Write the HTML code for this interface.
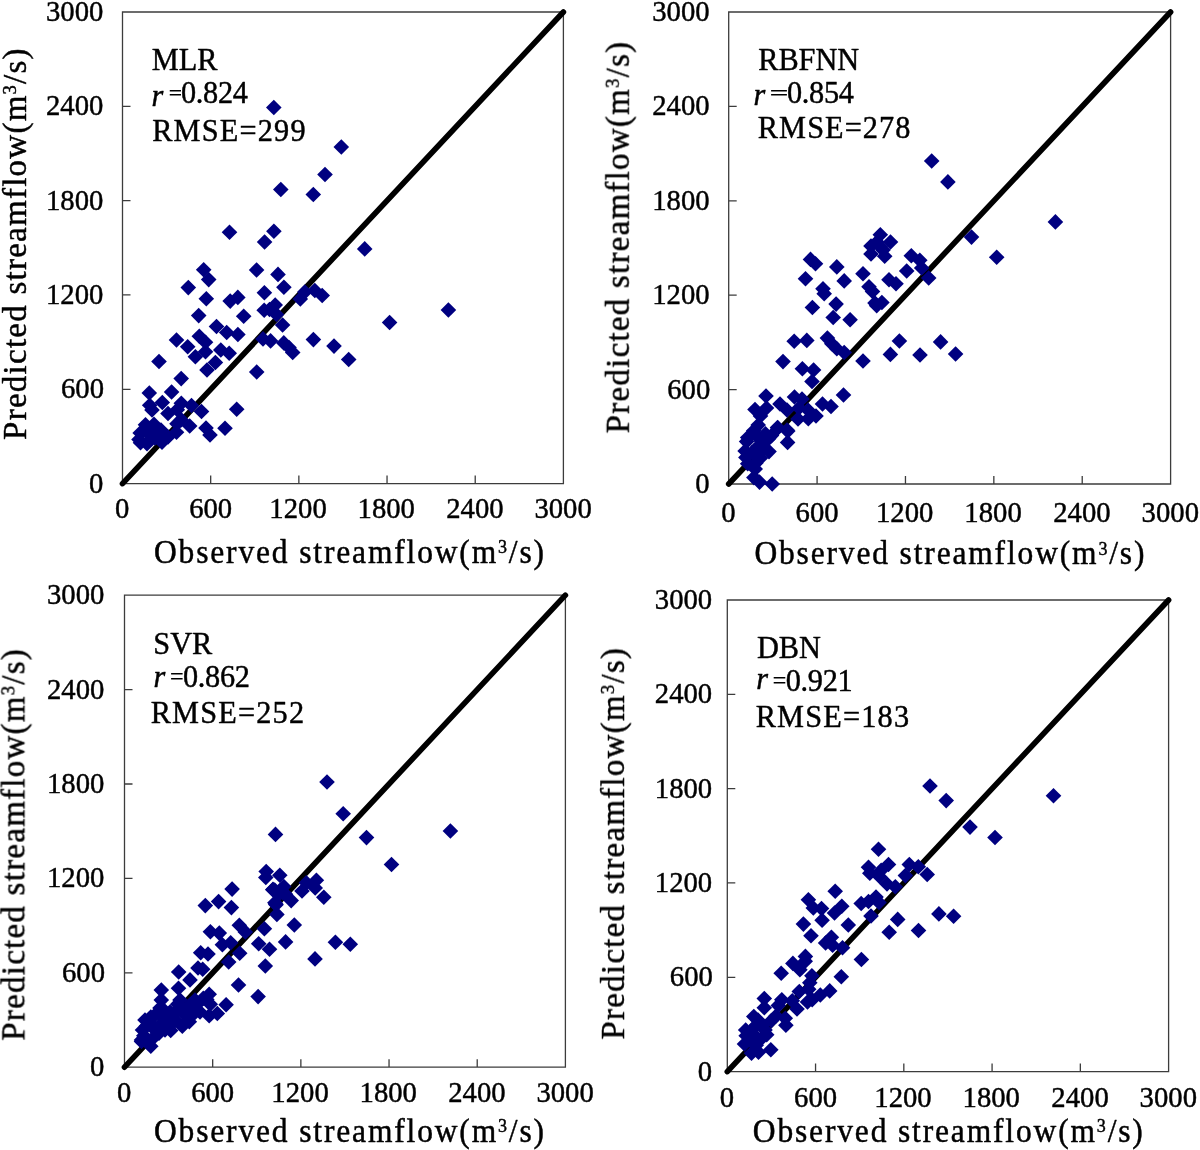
<!DOCTYPE html><html><head><meta charset="utf-8"><title>Streamflow scatter plots</title><style>html,body{margin:0;padding:0;background:#fff;overflow:hidden}svg{display:block}</style></head><body>
<svg width="1200" height="1150" viewBox="0 0 1200 1150" font-family='"Liberation Serif", serif'>
<rect width="1200" height="1150" fill="#fff"/>
<defs><path id="d" d="M0,-7.8L7.8,0L0,7.8L-7.8,0Z" fill="#000080"/></defs>
<path d="M210.68,483.60V475.60M122.50,389.28H130.50M298.86,483.60V475.60M122.50,294.96H130.50M387.04,483.60V475.60M122.50,200.64H130.50M475.22,483.60V475.60M122.50,106.32H130.50M122.50,12.00H563.40V483.60H122.50Z" stroke="#3c3c3c" stroke-width="1.3" fill="none"/>
<path d="M169.75,90H181.00v1.45H169.75ZM169.75,94H181.00v1.45H169.75Z" fill="#000"/>
<line x1="122.50" y1="483.60" x2="563.40" y2="12.00" stroke="#000" stroke-width="5.6" stroke-linecap="round"/>
<g><use href="#d" x="273.8" y="107.5"/><use href="#d" x="341.3" y="147.0"/><use href="#d" x="325.0" y="174.5"/><use href="#d" x="280.8" y="189.5"/><use href="#d" x="313.3" y="194.5"/><use href="#d" x="229.5" y="232.2"/><use href="#d" x="273.9" y="231.2"/><use href="#d" x="264.6" y="242.0"/><use href="#d" x="364.7" y="248.9"/><use href="#d" x="203.7" y="269.8"/><use href="#d" x="208.7" y="279.6"/><use href="#d" x="256.6" y="270.0"/><use href="#d" x="278.0" y="274.4"/><use href="#d" x="188.3" y="287.6"/><use href="#d" x="283.9" y="287.3"/><use href="#d" x="264.4" y="292.7"/><use href="#d" x="206.3" y="298.7"/><use href="#d" x="230.2" y="301.1"/><use href="#d" x="237.8" y="297.4"/><use href="#d" x="304.8" y="292.0"/><use href="#d" x="314.8" y="290.5"/><use href="#d" x="322.2" y="295.5"/><use href="#d" x="300.3" y="299.0"/><use href="#d" x="264.2" y="310.2"/><use href="#d" x="269.5" y="309.5"/><use href="#d" x="275.2" y="305.0"/><use href="#d" x="276.5" y="314.5"/><use href="#d" x="198.7" y="315.6"/><use href="#d" x="243.7" y="316.3"/><use href="#d" x="282.6" y="325.0"/><use href="#d" x="389.6" y="322.5"/><use href="#d" x="216.5" y="326.5"/><use href="#d" x="226.7" y="332.5"/><use href="#d" x="237.9" y="334.5"/><use href="#d" x="199.3" y="336.2"/><use href="#d" x="176.5" y="340.0"/><use href="#d" x="205.5" y="342.3"/><use href="#d" x="187.7" y="346.7"/><use href="#d" x="263.0" y="338.9"/><use href="#d" x="270.6" y="340.9"/><use href="#d" x="283.8" y="342.9"/><use href="#d" x="289.0" y="347.5"/><use href="#d" x="292.7" y="352.5"/><use href="#d" x="313.4" y="339.6"/><use href="#d" x="334.0" y="346.1"/><use href="#d" x="348.7" y="359.5"/><use href="#d" x="220.8" y="350.0"/><use href="#d" x="229.2" y="353.3"/><use href="#d" x="205.5" y="351.7"/><use href="#d" x="195.4" y="356.7"/><use href="#d" x="159.0" y="361.5"/><use href="#d" x="215.4" y="362.5"/><use href="#d" x="207.0" y="370.0"/><use href="#d" x="256.7" y="372.0"/><use href="#d" x="448.4" y="310.0"/><use href="#d" x="181.2" y="378.6"/><use href="#d" x="149.3" y="393.0"/><use href="#d" x="171.6" y="392.0"/><use href="#d" x="162.3" y="402.5"/><use href="#d" x="149.7" y="405.3"/><use href="#d" x="181.3" y="403.3"/><use href="#d" x="168.0" y="413.5"/><use href="#d" x="191.5" y="405.5"/><use href="#d" x="201.5" y="411.5"/><use href="#d" x="236.7" y="409.2"/><use href="#d" x="189.7" y="426.0"/><use href="#d" x="177.0" y="423.7"/><use href="#d" x="176.5" y="432.3"/><use href="#d" x="206.0" y="428.0"/><use href="#d" x="210.0" y="435.0"/><use href="#d" x="225.0" y="428.3"/><use href="#d" x="145.5" y="424.8"/><use href="#d" x="154.0" y="424.2"/><use href="#d" x="161.0" y="430.0"/><use href="#d" x="140.2" y="433.0"/><use href="#d" x="139.0" y="439.5"/><use href="#d" x="140.5" y="442.8"/><use href="#d" x="147.0" y="443.8"/><use href="#d" x="162.0" y="442.2"/><use href="#d" x="150.0" y="435.0"/><use href="#d" x="155.0" y="438.0"/><use href="#d" x="168.0" y="437.0"/><use href="#d" x="147.0" y="432.0"/><use href="#d" x="152.0" y="410.0"/><use href="#d" x="177.3" y="409.7"/><use href="#d" x="181.3" y="419.7"/></g>
<path d="M817.08,484.00V476.00M728.70,389.60H736.70M905.46,484.00V476.00M728.70,295.20H736.70M993.84,484.00V476.00M728.70,200.80H736.70M1082.22,484.00V476.00M728.70,106.40H736.70M728.70,12.00H1170.60V484.00H728.70Z" stroke="#3c3c3c" stroke-width="1.3" fill="none"/>
<path d="M771.10,90H786.90v1.45H771.10ZM771.10,94H786.90v1.45H771.10Z" fill="#000"/>
<line x1="728.70" y1="484.00" x2="1170.60" y2="12.00" stroke="#000" stroke-width="5.6" stroke-linecap="round"/>
<g><use href="#d" x="931.7" y="161.0"/><use href="#d" x="947.9" y="181.9"/><use href="#d" x="1055.4" y="221.9"/><use href="#d" x="971.5" y="237.1"/><use href="#d" x="996.7" y="257.3"/><use href="#d" x="880.3" y="234.7"/><use href="#d" x="890.5" y="242.0"/><use href="#d" x="871.0" y="246.0"/><use href="#d" x="871.0" y="254.0"/><use href="#d" x="884.7" y="256.3"/><use href="#d" x="880.3" y="246.7"/><use href="#d" x="877.0" y="242.0"/><use href="#d" x="883.0" y="250.0"/><use href="#d" x="911.3" y="255.7"/><use href="#d" x="919.8" y="260.3"/><use href="#d" x="906.7" y="271.0"/><use href="#d" x="921.7" y="268.0"/><use href="#d" x="928.7" y="278.0"/><use href="#d" x="863.0" y="273.7"/><use href="#d" x="869.0" y="286.7"/><use href="#d" x="889.0" y="279.7"/><use href="#d" x="896.0" y="283.7"/><use href="#d" x="810.5" y="259.4"/><use href="#d" x="815.5" y="263.8"/><use href="#d" x="836.8" y="266.9"/><use href="#d" x="805.5" y="278.8"/><use href="#d" x="844.2" y="280.9"/><use href="#d" x="823.0" y="288.8"/><use href="#d" x="824.2" y="293.8"/><use href="#d" x="836.1" y="304.1"/><use href="#d" x="812.4" y="307.5"/><use href="#d" x="833.2" y="317.5"/><use href="#d" x="850.1" y="319.8"/><use href="#d" x="794.2" y="341.2"/><use href="#d" x="806.8" y="340.4"/><use href="#d" x="827.4" y="338.1"/><use href="#d" x="831.8" y="343.8"/><use href="#d" x="836.8" y="348.8"/><use href="#d" x="844.2" y="352.5"/><use href="#d" x="863.0" y="361.0"/><use href="#d" x="783.0" y="361.6"/><use href="#d" x="802.4" y="368.8"/><use href="#d" x="813.6" y="370.0"/><use href="#d" x="875.0" y="303.1"/><use href="#d" x="881.9" y="302.5"/><use href="#d" x="899.4" y="341.0"/><use href="#d" x="890.4" y="354.4"/><use href="#d" x="920.0" y="355.0"/><use href="#d" x="940.6" y="341.9"/><use href="#d" x="955.6" y="354.0"/><use href="#d" x="812.0" y="381.5"/><use href="#d" x="843.5" y="395.0"/><use href="#d" x="766.0" y="396.0"/><use href="#d" x="794.5" y="397.0"/><use href="#d" x="802.0" y="399.0"/><use href="#d" x="780.0" y="404.0"/><use href="#d" x="822.5" y="404.0"/><use href="#d" x="831.0" y="406.5"/><use href="#d" x="755.0" y="409.5"/><use href="#d" x="766.5" y="408.0"/><use href="#d" x="787.0" y="410.0"/><use href="#d" x="799.0" y="408.0"/><use href="#d" x="808.0" y="410.0"/><use href="#d" x="816.0" y="416.0"/><use href="#d" x="798.0" y="419.0"/><use href="#d" x="808.3" y="418.8"/><use href="#d" x="772.2" y="484.0"/><use href="#d" x="753.9" y="477.6"/><use href="#d" x="759.5" y="482.1"/><use href="#d" x="787.6" y="442.4"/><use href="#d" x="787.8" y="431.1"/><use href="#d" x="769.0" y="451.6"/><use href="#d" x="747.7" y="437.5"/><use href="#d" x="746.6" y="441.6"/><use href="#d" x="745.1" y="451.0"/><use href="#d" x="745.9" y="457.4"/><use href="#d" x="747.7" y="463.8"/><use href="#d" x="755.9" y="463.0"/><use href="#d" x="755.2" y="469.0"/><use href="#d" x="760.5" y="416.0"/><use href="#d" x="758.2" y="425.1"/><use href="#d" x="753.7" y="430.8"/><use href="#d" x="758.0" y="437.5"/><use href="#d" x="758.0" y="446.5"/><use href="#d" x="752.0" y="452.5"/><use href="#d" x="761.8" y="441.2"/><use href="#d" x="765.5" y="433.8"/><use href="#d" x="777.5" y="427.6"/><use href="#d" x="787.0" y="430.0"/><use href="#d" x="778.0" y="428.0"/><use href="#d" x="768.5" y="438.7"/><use href="#d" x="764.2" y="447.8"/><use href="#d" x="771.5" y="435.6"/><use href="#d" x="760.5" y="458.0"/><use href="#d" x="872.5" y="291.5"/><use href="#d" x="876.7" y="305.8"/></g>
<path d="M212.68,1067.20V1059.20M124.50,972.80H132.50M300.86,1067.20V1059.20M124.50,878.40H132.50M389.04,1067.20V1059.20M124.50,784.00H132.50M477.22,1067.20V1059.20M124.50,689.60H132.50M124.50,595.20H565.40V1067.20H124.50Z" stroke="#3c3c3c" stroke-width="1.3" fill="none"/>
<path d="M171.10,673H182.60v1.45H171.10ZM171.10,678H182.60v1.45H171.10Z" fill="#000"/>
<line x1="124.50" y1="1067.20" x2="565.40" y2="595.20" stroke="#000" stroke-width="5.6" stroke-linecap="round"/>
<g><use href="#d" x="327.0" y="782.0"/><use href="#d" x="343.2" y="813.7"/><use href="#d" x="275.5" y="834.4"/><use href="#d" x="366.5" y="837.6"/><use href="#d" x="450.4" y="831.0"/><use href="#d" x="391.5" y="864.5"/><use href="#d" x="266.2" y="871.5"/><use href="#d" x="265.8" y="877.5"/><use href="#d" x="279.8" y="875.3"/><use href="#d" x="273.0" y="889.4"/><use href="#d" x="283.8" y="886.5"/><use href="#d" x="285.5" y="894.2"/><use href="#d" x="291.2" y="900.6"/><use href="#d" x="274.9" y="902.8"/><use href="#d" x="302.0" y="891.0"/><use href="#d" x="306.3" y="882.7"/><use href="#d" x="316.4" y="880.2"/><use href="#d" x="315.2" y="888.0"/><use href="#d" x="323.8" y="897.3"/><use href="#d" x="276.9" y="914.4"/><use href="#d" x="294.3" y="925.0"/><use href="#d" x="264.4" y="928.7"/><use href="#d" x="272.8" y="889.7"/><use href="#d" x="282.7" y="892.6"/><use href="#d" x="275.7" y="903.9"/><use href="#d" x="285.6" y="941.9"/><use href="#d" x="335.4" y="942.2"/><use href="#d" x="350.3" y="944.3"/><use href="#d" x="315.0" y="958.9"/><use href="#d" x="232.1" y="889.1"/><use href="#d" x="205.3" y="905.6"/><use href="#d" x="218.6" y="901.6"/><use href="#d" x="231.4" y="907.6"/><use href="#d" x="274.7" y="890.0"/><use href="#d" x="280.0" y="893.3"/><use href="#d" x="276.0" y="904.7"/><use href="#d" x="239.3" y="925.3"/><use href="#d" x="245.3" y="932.0"/><use href="#d" x="210.4" y="931.7"/><use href="#d" x="219.3" y="933.1"/><use href="#d" x="222.4" y="944.7"/><use href="#d" x="230.7" y="942.7"/><use href="#d" x="239.7" y="953.3"/><use href="#d" x="258.7" y="943.7"/><use href="#d" x="269.5" y="949.3"/><use href="#d" x="200.7" y="952.7"/><use href="#d" x="208.0" y="954.0"/><use href="#d" x="228.7" y="962.0"/><use href="#d" x="265.3" y="966.0"/><use href="#d" x="198.0" y="968.0"/><use href="#d" x="202.7" y="969.3"/><use href="#d" x="178.7" y="972.0"/><use href="#d" x="190.0" y="979.9"/><use href="#d" x="238.5" y="985.0"/><use href="#d" x="161.3" y="990.1"/><use href="#d" x="178.5" y="988.2"/><use href="#d" x="258.1" y="996.6"/><use href="#d" x="161.3" y="1000.1"/><use href="#d" x="162.5" y="1008.8"/><use href="#d" x="177.7" y="1004.2"/><use href="#d" x="226.1" y="1004.8"/><use href="#d" x="209.2" y="994.2"/><use href="#d" x="206.8" y="999.5"/><use href="#d" x="203.3" y="998.3"/><use href="#d" x="210.3" y="1004.2"/><use href="#d" x="217.3" y="1013.5"/><use href="#d" x="209.2" y="1015.8"/><use href="#d" x="194.0" y="1013.5"/><use href="#d" x="189.3" y="1021.7"/><use href="#d" x="182.3" y="1026.3"/><use href="#d" x="150.8" y="1017.0"/><use href="#d" x="146.2" y="1026.3"/><use href="#d" x="143.8" y="1035.7"/><use href="#d" x="141.5" y="1041.5"/><use href="#d" x="150.8" y="1046.2"/><use href="#d" x="159.0" y="1033.3"/><use href="#d" x="168.3" y="1027.5"/><use href="#d" x="154.3" y="1027.5"/><use href="#d" x="164.8" y="1019.3"/><use href="#d" x="174.2" y="1013.5"/><use href="#d" x="180.0" y="1007.7"/><use href="#d" x="188.2" y="1007.7"/><use href="#d" x="196.3" y="1005.3"/><use href="#d" x="170.7" y="1030.5"/><use href="#d" x="153.2" y="1038.0"/><use href="#d" x="142.5" y="1030.0"/><use href="#d" x="145.0" y="1020.0"/><use href="#d" x="155.0" y="1015.0"/><use href="#d" x="160.0" y="1025.0"/><use href="#d" x="165.0" y="1030.0"/><use href="#d" x="148.0" y="1040.0"/><use href="#d" x="175.0" y="1020.0"/><use href="#d" x="185.0" y="1015.0"/><use href="#d" x="170.0" y="1012.0"/><use href="#d" x="160.0" y="1008.0"/><use href="#d" x="155.0" y="1030.0"/><use href="#d" x="150.0" y="1024.0"/><use href="#d" x="141.5" y="1040.0"/><use href="#d" x="180.0" y="1000.0"/><use href="#d" x="195.0" y="1000.0"/><use href="#d" x="200.0" y="1012.0"/><use href="#d" x="190.0" y="1005.0"/></g>
<path d="M815.56,1071.60V1063.60M727.30,977.28H735.30M903.82,1071.60V1063.60M727.30,882.96H735.30M992.08,1071.60V1063.60M727.30,788.64H735.30M1080.34,1071.60V1063.60M727.30,694.32H735.30M727.30,600.00H1168.60V1071.60H727.30Z" stroke="#3c3c3c" stroke-width="1.3" fill="none"/>
<path d="M773.70,677H785.30v1.45H773.70ZM773.70,682H785.30v1.45H773.70Z" fill="#000"/>
<line x1="727.30" y1="1071.60" x2="1168.60" y2="600.00" stroke="#000" stroke-width="5.6" stroke-linecap="round"/>
<g><use href="#d" x="930.0" y="786.0"/><use href="#d" x="946.2" y="800.6"/><use href="#d" x="1053.5" y="795.8"/><use href="#d" x="970.0" y="827.1"/><use href="#d" x="995.0" y="837.5"/><use href="#d" x="878.5" y="849.2"/><use href="#d" x="868.5" y="867.3"/><use href="#d" x="869.8" y="873.3"/><use href="#d" x="888.5" y="864.5"/><use href="#d" x="881.2" y="870.2"/><use href="#d" x="879.5" y="876.5"/><use href="#d" x="909.3" y="864.5"/><use href="#d" x="918.3" y="866.8"/><use href="#d" x="905.4" y="875.6"/><use href="#d" x="927.2" y="874.5"/><use href="#d" x="887.0" y="884.0"/><use href="#d" x="895.3" y="886.8"/><use href="#d" x="835.2" y="891.3"/><use href="#d" x="876.0" y="897.0"/><use href="#d" x="861.2" y="903.5"/><use href="#d" x="868.5" y="901.5"/><use href="#d" x="879.0" y="902.5"/><use href="#d" x="841.8" y="906.3"/><use href="#d" x="834.5" y="913.0"/><use href="#d" x="871.0" y="916.0"/><use href="#d" x="897.7" y="919.4"/><use href="#d" x="938.9" y="913.9"/><use href="#d" x="953.6" y="916.2"/><use href="#d" x="848.3" y="925.0"/><use href="#d" x="889.2" y="932.2"/><use href="#d" x="918.5" y="930.5"/><use href="#d" x="861.4" y="959.5"/><use href="#d" x="808.4" y="899.8"/><use href="#d" x="813.3" y="908.0"/><use href="#d" x="821.5" y="908.6"/><use href="#d" x="822.1" y="920.2"/><use href="#d" x="803.4" y="924.1"/><use href="#d" x="811.0" y="935.8"/><use href="#d" x="831.4" y="937.2"/><use href="#d" x="825.6" y="943.0"/><use href="#d" x="832.6" y="945.3"/><use href="#d" x="842.5" y="947.7"/><use href="#d" x="805.4" y="956.4"/><use href="#d" x="792.9" y="963.4"/><use href="#d" x="799.9" y="969.8"/><use href="#d" x="781.2" y="973.3"/><use href="#d" x="811.9" y="975.7"/><use href="#d" x="809.8" y="982.7"/><use href="#d" x="841.3" y="976.8"/><use href="#d" x="805.2" y="961.2"/><use href="#d" x="829.7" y="990.9"/><use href="#d" x="820.3" y="995.0"/><use href="#d" x="812.2" y="999.7"/><use href="#d" x="807.5" y="1002.0"/><use href="#d" x="797.0" y="1009.0"/><use href="#d" x="792.3" y="1000.8"/><use href="#d" x="781.8" y="999.7"/><use href="#d" x="778.3" y="1005.5"/><use href="#d" x="764.3" y="998.5"/><use href="#d" x="764.3" y="1007.8"/><use href="#d" x="753.8" y="1016.6"/><use href="#d" x="785.3" y="1018.3"/><use href="#d" x="785.9" y="1025.3"/><use href="#d" x="771.3" y="1020.7"/><use href="#d" x="766.7" y="1034.7"/><use href="#d" x="770.8" y="1049.8"/><use href="#d" x="751.5" y="1053.3"/><use href="#d" x="758.5" y="1052.2"/><use href="#d" x="746.2" y="1035.8"/><use href="#d" x="744.5" y="1044.0"/><use href="#d" x="745.7" y="1030.0"/><use href="#d" x="756.2" y="1025.3"/><use href="#d" x="755.0" y="1035.8"/><use href="#d" x="756.2" y="1045.2"/><use href="#d" x="762.0" y="1025.3"/><use href="#d" x="776.0" y="1016.0"/><use href="#d" x="799.3" y="991.5"/><use href="#d" x="808.7" y="989.2"/><use href="#d" x="750.0" y="1040.0"/><use href="#d" x="760.0" y="1040.0"/><use href="#d" x="752.0" y="1030.0"/><use href="#d" x="765.0" y="1030.0"/><use href="#d" x="758.0" y="1020.0"/></g>
<g fill="#000" opacity="0.999"><g transform="translate(89.00,492.60)"><text transform="rotate(0) scale(1,1.03)" font-size="28.7" letter-spacing="0" text-anchor="start" stroke="#000" stroke-width="0.45" stroke-linejoin="round">0</text></g><g transform="translate(115.00,517.70)"><text transform="rotate(0) scale(1,1.03)" font-size="28.7" letter-spacing="0" text-anchor="start" stroke="#000" stroke-width="0.45" stroke-linejoin="round">0</text></g><g transform="translate(61.00,398.28)"><text transform="rotate(0) scale(1,1.03)" font-size="28.7" letter-spacing="0" text-anchor="start" stroke="#000" stroke-width="0.45" stroke-linejoin="round">600</text></g><g transform="translate(189.18,517.70)"><text transform="rotate(0) scale(1,1.03)" font-size="28.7" letter-spacing="0" text-anchor="start" stroke="#000" stroke-width="0.45" stroke-linejoin="round">600</text></g><g transform="translate(46.00,303.96)"><text transform="rotate(0) scale(1,1.03)" font-size="28.7" letter-spacing="0" text-anchor="start" stroke="#000" stroke-width="0.45" stroke-linejoin="round">1200</text></g><g transform="translate(269.36,517.70)"><text transform="rotate(0) scale(1,1.03)" font-size="28.7" letter-spacing="0" text-anchor="start" stroke="#000" stroke-width="0.45" stroke-linejoin="round">1200</text></g><g transform="translate(46.00,209.64)"><text transform="rotate(0) scale(1,1.03)" font-size="28.7" letter-spacing="0" text-anchor="start" stroke="#000" stroke-width="0.45" stroke-linejoin="round">1800</text></g><g transform="translate(357.54,517.70)"><text transform="rotate(0) scale(1,1.03)" font-size="28.7" letter-spacing="0" text-anchor="start" stroke="#000" stroke-width="0.45" stroke-linejoin="round">1800</text></g><g transform="translate(46.00,115.32)"><text transform="rotate(0) scale(1,1.03)" font-size="28.7" letter-spacing="0" text-anchor="start" stroke="#000" stroke-width="0.45" stroke-linejoin="round">2400</text></g><g transform="translate(446.22,517.70)"><text transform="rotate(0) scale(1,1.03)" font-size="28.7" letter-spacing="0" text-anchor="start" stroke="#000" stroke-width="0.45" stroke-linejoin="round">2400</text></g><g transform="translate(46.00,21.00)"><text transform="rotate(0) scale(1,1.03)" font-size="28.7" letter-spacing="0" text-anchor="start" stroke="#000" stroke-width="0.45" stroke-linejoin="round">3000</text></g><g transform="translate(534.40,517.70)"><text transform="rotate(0) scale(1,1.03)" font-size="28.7" letter-spacing="0" text-anchor="start" stroke="#000" stroke-width="0.45" stroke-linejoin="round">3000</text></g><g transform="translate(154.00,563.25)"><text transform="rotate(0) scale(1,1.07)" font-size="31.5" letter-spacing="1.85" text-anchor="start" stroke="#000" stroke-width="0.45" stroke-linejoin="round">Observed streamflow(m<tspan font-size="18" dy="-9.2">3</tspan><tspan dy="9.2">/s)</tspan></text></g><g transform="translate(26.40,439.90)"><text transform="rotate(-90) scale(1,1)" font-size="33" letter-spacing="1.25" text-anchor="start" stroke="#000" stroke-width="0.45" stroke-linejoin="round">Predicted streamflow(m<tspan font-size="18.5" dy="-10">3</tspan><tspan dy="10">/s)</tspan></text></g><g transform="translate(151.70,69.70)"><text transform="rotate(0) scale(1,1.01)" font-size="30.3" letter-spacing="0" text-anchor="start" stroke="#000" stroke-width="0.45" stroke-linejoin="round">MLR</text></g><g transform="translate(152.20,140.50)"><text transform="rotate(0) scale(1,1.01)" font-size="30.3" letter-spacing="1.2" text-anchor="start" stroke="#000" stroke-width="0.45" stroke-linejoin="round">RMSE=299</text></g><g transform="translate(151.50,105.75)"><text transform="rotate(0) scale(1,1.01)" font-size="30.3" letter-spacing="0" text-anchor="start" font-style="italic" stroke="#000" stroke-width="0.45" stroke-linejoin="round">r</text></g><g transform="translate(181.00,103.00)"><text transform="rotate(0) scale(1,1.01)" font-size="30.3" letter-spacing="-0.3" text-anchor="start" stroke="#000" stroke-width="0.45" stroke-linejoin="round">0.824</text></g><g transform="translate(695.20,493.00)"><text transform="rotate(0) scale(1,1.03)" font-size="28.7" letter-spacing="0" text-anchor="start" stroke="#000" stroke-width="0.45" stroke-linejoin="round">0</text></g><g transform="translate(721.20,521.90)"><text transform="rotate(0) scale(1,1.03)" font-size="28.7" letter-spacing="0" text-anchor="start" stroke="#000" stroke-width="0.45" stroke-linejoin="round">0</text></g><g transform="translate(667.20,398.60)"><text transform="rotate(0) scale(1,1.03)" font-size="28.7" letter-spacing="0" text-anchor="start" stroke="#000" stroke-width="0.45" stroke-linejoin="round">600</text></g><g transform="translate(795.58,521.90)"><text transform="rotate(0) scale(1,1.03)" font-size="28.7" letter-spacing="0" text-anchor="start" stroke="#000" stroke-width="0.45" stroke-linejoin="round">600</text></g><g transform="translate(652.20,304.20)"><text transform="rotate(0) scale(1,1.03)" font-size="28.7" letter-spacing="0" text-anchor="start" stroke="#000" stroke-width="0.45" stroke-linejoin="round">1200</text></g><g transform="translate(875.96,521.90)"><text transform="rotate(0) scale(1,1.03)" font-size="28.7" letter-spacing="0" text-anchor="start" stroke="#000" stroke-width="0.45" stroke-linejoin="round">1200</text></g><g transform="translate(652.20,209.80)"><text transform="rotate(0) scale(1,1.03)" font-size="28.7" letter-spacing="0" text-anchor="start" stroke="#000" stroke-width="0.45" stroke-linejoin="round">1800</text></g><g transform="translate(964.34,521.90)"><text transform="rotate(0) scale(1,1.03)" font-size="28.7" letter-spacing="0" text-anchor="start" stroke="#000" stroke-width="0.45" stroke-linejoin="round">1800</text></g><g transform="translate(652.20,115.40)"><text transform="rotate(0) scale(1,1.03)" font-size="28.7" letter-spacing="0" text-anchor="start" stroke="#000" stroke-width="0.45" stroke-linejoin="round">2400</text></g><g transform="translate(1053.22,521.90)"><text transform="rotate(0) scale(1,1.03)" font-size="28.7" letter-spacing="0" text-anchor="start" stroke="#000" stroke-width="0.45" stroke-linejoin="round">2400</text></g><g transform="translate(652.20,21.00)"><text transform="rotate(0) scale(1,1.03)" font-size="28.7" letter-spacing="0" text-anchor="start" stroke="#000" stroke-width="0.45" stroke-linejoin="round">3000</text></g><g transform="translate(1141.60,521.90)"><text transform="rotate(0) scale(1,1.03)" font-size="28.7" letter-spacing="0" text-anchor="start" stroke="#000" stroke-width="0.45" stroke-linejoin="round">3000</text></g><g transform="translate(754.40,564.40)"><text transform="rotate(0) scale(1,1.07)" font-size="31.5" letter-spacing="1.85" text-anchor="start" stroke="#000" stroke-width="0.45" stroke-linejoin="round">Observed streamflow(m<tspan font-size="18" dy="-9.2">3</tspan><tspan dy="9.2">/s)</tspan></text></g><g transform="translate(628.80,433.40)"><text transform="rotate(-90) scale(1,1)" font-size="33" letter-spacing="1.25" text-anchor="start" stroke="#000" stroke-width="0.45" stroke-linejoin="round">Predicted streamflow(m<tspan font-size="18.5" dy="-10">3</tspan><tspan dy="10">/s)</tspan></text></g><g transform="translate(758.20,69.70)"><text transform="rotate(0) scale(1,1.01)" font-size="30.3" letter-spacing="0" text-anchor="start" stroke="#000" stroke-width="0.45" stroke-linejoin="round">RBFNN</text></g><g transform="translate(757.80,138.10)"><text transform="rotate(0) scale(1,1.01)" font-size="30.3" letter-spacing="1.1" text-anchor="start" stroke="#000" stroke-width="0.45" stroke-linejoin="round">RMSE=278</text></g><g transform="translate(753.60,105.10)"><text transform="rotate(0) scale(1,1.01)" font-size="30.3" letter-spacing="0" text-anchor="start" font-style="italic" stroke="#000" stroke-width="0.45" stroke-linejoin="round">r</text></g><g transform="translate(787.00,103.30)"><text transform="rotate(0) scale(1,1.01)" font-size="30.3" letter-spacing="-0.3" text-anchor="start" stroke="#000" stroke-width="0.45" stroke-linejoin="round">0.854</text></g><g transform="translate(90.00,1076.20)"><text transform="rotate(0) scale(1,1.03)" font-size="28.7" letter-spacing="0" text-anchor="start" stroke="#000" stroke-width="0.45" stroke-linejoin="round">0</text></g><g transform="translate(117.00,1102.00)"><text transform="rotate(0) scale(1,1.03)" font-size="28.7" letter-spacing="0" text-anchor="start" stroke="#000" stroke-width="0.45" stroke-linejoin="round">0</text></g><g transform="translate(62.00,981.80)"><text transform="rotate(0) scale(1,1.03)" font-size="28.7" letter-spacing="0" text-anchor="start" stroke="#000" stroke-width="0.45" stroke-linejoin="round">600</text></g><g transform="translate(191.18,1102.00)"><text transform="rotate(0) scale(1,1.03)" font-size="28.7" letter-spacing="0" text-anchor="start" stroke="#000" stroke-width="0.45" stroke-linejoin="round">600</text></g><g transform="translate(47.00,887.40)"><text transform="rotate(0) scale(1,1.03)" font-size="28.7" letter-spacing="0" text-anchor="start" stroke="#000" stroke-width="0.45" stroke-linejoin="round">1200</text></g><g transform="translate(271.36,1102.00)"><text transform="rotate(0) scale(1,1.03)" font-size="28.7" letter-spacing="0" text-anchor="start" stroke="#000" stroke-width="0.45" stroke-linejoin="round">1200</text></g><g transform="translate(47.00,793.00)"><text transform="rotate(0) scale(1,1.03)" font-size="28.7" letter-spacing="0" text-anchor="start" stroke="#000" stroke-width="0.45" stroke-linejoin="round">1800</text></g><g transform="translate(359.54,1102.00)"><text transform="rotate(0) scale(1,1.03)" font-size="28.7" letter-spacing="0" text-anchor="start" stroke="#000" stroke-width="0.45" stroke-linejoin="round">1800</text></g><g transform="translate(47.00,698.60)"><text transform="rotate(0) scale(1,1.03)" font-size="28.7" letter-spacing="0" text-anchor="start" stroke="#000" stroke-width="0.45" stroke-linejoin="round">2400</text></g><g transform="translate(448.22,1102.00)"><text transform="rotate(0) scale(1,1.03)" font-size="28.7" letter-spacing="0" text-anchor="start" stroke="#000" stroke-width="0.45" stroke-linejoin="round">2400</text></g><g transform="translate(47.00,604.20)"><text transform="rotate(0) scale(1,1.03)" font-size="28.7" letter-spacing="0" text-anchor="start" stroke="#000" stroke-width="0.45" stroke-linejoin="round">3000</text></g><g transform="translate(536.40,1102.00)"><text transform="rotate(0) scale(1,1.03)" font-size="28.7" letter-spacing="0" text-anchor="start" stroke="#000" stroke-width="0.45" stroke-linejoin="round">3000</text></g><g transform="translate(154.00,1141.70)"><text transform="rotate(0) scale(1,1.07)" font-size="31.5" letter-spacing="1.85" text-anchor="start" stroke="#000" stroke-width="0.45" stroke-linejoin="round">Observed streamflow(m<tspan font-size="18" dy="-9.2">3</tspan><tspan dy="9.2">/s)</tspan></text></g><g transform="translate(24.40,1040.70)"><text transform="rotate(-90) scale(1,1)" font-size="33" letter-spacing="1.25" text-anchor="start" stroke="#000" stroke-width="0.45" stroke-linejoin="round">Predicted streamflow(m<tspan font-size="18.5" dy="-10">3</tspan><tspan dy="10">/s)</tspan></text></g><g transform="translate(153.30,653.50)"><text transform="rotate(0) scale(1,1.01)" font-size="30.3" letter-spacing="0" text-anchor="start" stroke="#000" stroke-width="0.45" stroke-linejoin="round">SVR</text></g><g transform="translate(150.70,723.00)"><text transform="rotate(0) scale(1,1.01)" font-size="30.3" letter-spacing="1.2" text-anchor="start" stroke="#000" stroke-width="0.45" stroke-linejoin="round">RMSE=252</text></g><g transform="translate(153.60,687.40)"><text transform="rotate(0) scale(1,1.01)" font-size="30.3" letter-spacing="0" text-anchor="start" font-style="italic" stroke="#000" stroke-width="0.45" stroke-linejoin="round">r</text></g><g transform="translate(183.00,687.00)"><text transform="rotate(0) scale(1,1.01)" font-size="30.3" letter-spacing="-0.3" text-anchor="start" stroke="#000" stroke-width="0.45" stroke-linejoin="round">0.862</text></g><g transform="translate(697.80,1080.60)"><text transform="rotate(0) scale(1,1.03)" font-size="28.7" letter-spacing="0" text-anchor="start" stroke="#000" stroke-width="0.45" stroke-linejoin="round">0</text></g><g transform="translate(719.80,1106.50)"><text transform="rotate(0) scale(1,1.03)" font-size="28.7" letter-spacing="0" text-anchor="start" stroke="#000" stroke-width="0.45" stroke-linejoin="round">0</text></g><g transform="translate(669.80,986.28)"><text transform="rotate(0) scale(1,1.03)" font-size="28.7" letter-spacing="0" text-anchor="start" stroke="#000" stroke-width="0.45" stroke-linejoin="round">600</text></g><g transform="translate(794.06,1106.50)"><text transform="rotate(0) scale(1,1.03)" font-size="28.7" letter-spacing="0" text-anchor="start" stroke="#000" stroke-width="0.45" stroke-linejoin="round">600</text></g><g transform="translate(654.80,891.96)"><text transform="rotate(0) scale(1,1.03)" font-size="28.7" letter-spacing="0" text-anchor="start" stroke="#000" stroke-width="0.45" stroke-linejoin="round">1200</text></g><g transform="translate(874.32,1106.50)"><text transform="rotate(0) scale(1,1.03)" font-size="28.7" letter-spacing="0" text-anchor="start" stroke="#000" stroke-width="0.45" stroke-linejoin="round">1200</text></g><g transform="translate(654.80,797.64)"><text transform="rotate(0) scale(1,1.03)" font-size="28.7" letter-spacing="0" text-anchor="start" stroke="#000" stroke-width="0.45" stroke-linejoin="round">1800</text></g><g transform="translate(962.58,1106.50)"><text transform="rotate(0) scale(1,1.03)" font-size="28.7" letter-spacing="0" text-anchor="start" stroke="#000" stroke-width="0.45" stroke-linejoin="round">1800</text></g><g transform="translate(654.80,703.32)"><text transform="rotate(0) scale(1,1.03)" font-size="28.7" letter-spacing="0" text-anchor="start" stroke="#000" stroke-width="0.45" stroke-linejoin="round">2400</text></g><g transform="translate(1051.34,1106.50)"><text transform="rotate(0) scale(1,1.03)" font-size="28.7" letter-spacing="0" text-anchor="start" stroke="#000" stroke-width="0.45" stroke-linejoin="round">2400</text></g><g transform="translate(654.80,609.00)"><text transform="rotate(0) scale(1,1.03)" font-size="28.7" letter-spacing="0" text-anchor="start" stroke="#000" stroke-width="0.45" stroke-linejoin="round">3000</text></g><g transform="translate(1139.60,1106.50)"><text transform="rotate(0) scale(1,1.03)" font-size="28.7" letter-spacing="0" text-anchor="start" stroke="#000" stroke-width="0.45" stroke-linejoin="round">3000</text></g><g transform="translate(752.80,1141.50)"><text transform="rotate(0) scale(1,1.07)" font-size="31.5" letter-spacing="1.85" text-anchor="start" stroke="#000" stroke-width="0.45" stroke-linejoin="round">Observed streamflow(m<tspan font-size="18" dy="-9.2">3</tspan><tspan dy="9.2">/s)</tspan></text></g><g transform="translate(624.00,1039.60)"><text transform="rotate(-90) scale(1,1)" font-size="33" letter-spacing="1.25" text-anchor="start" stroke="#000" stroke-width="0.45" stroke-linejoin="round">Predicted streamflow(m<tspan font-size="18.5" dy="-10">3</tspan><tspan dy="10">/s)</tspan></text></g><g transform="translate(757.00,657.70)"><text transform="rotate(0) scale(1,1.01)" font-size="30.3" letter-spacing="0" text-anchor="start" stroke="#000" stroke-width="0.45" stroke-linejoin="round">DBN</text></g><g transform="translate(755.70,726.80)"><text transform="rotate(0) scale(1,1.01)" font-size="30.3" letter-spacing="1.2" text-anchor="start" stroke="#000" stroke-width="0.45" stroke-linejoin="round">RMSE=183</text></g><g transform="translate(756.30,688.90)"><text transform="rotate(0) scale(1,1.01)" font-size="30.3" letter-spacing="0" text-anchor="start" font-style="italic" stroke="#000" stroke-width="0.45" stroke-linejoin="round">r</text></g><g transform="translate(785.70,691.30)"><text transform="rotate(0) scale(1,1.01)" font-size="30.3" letter-spacing="-0.3" text-anchor="start" stroke="#000" stroke-width="0.45" stroke-linejoin="round">0.921</text></g></g>
</svg></body></html>
